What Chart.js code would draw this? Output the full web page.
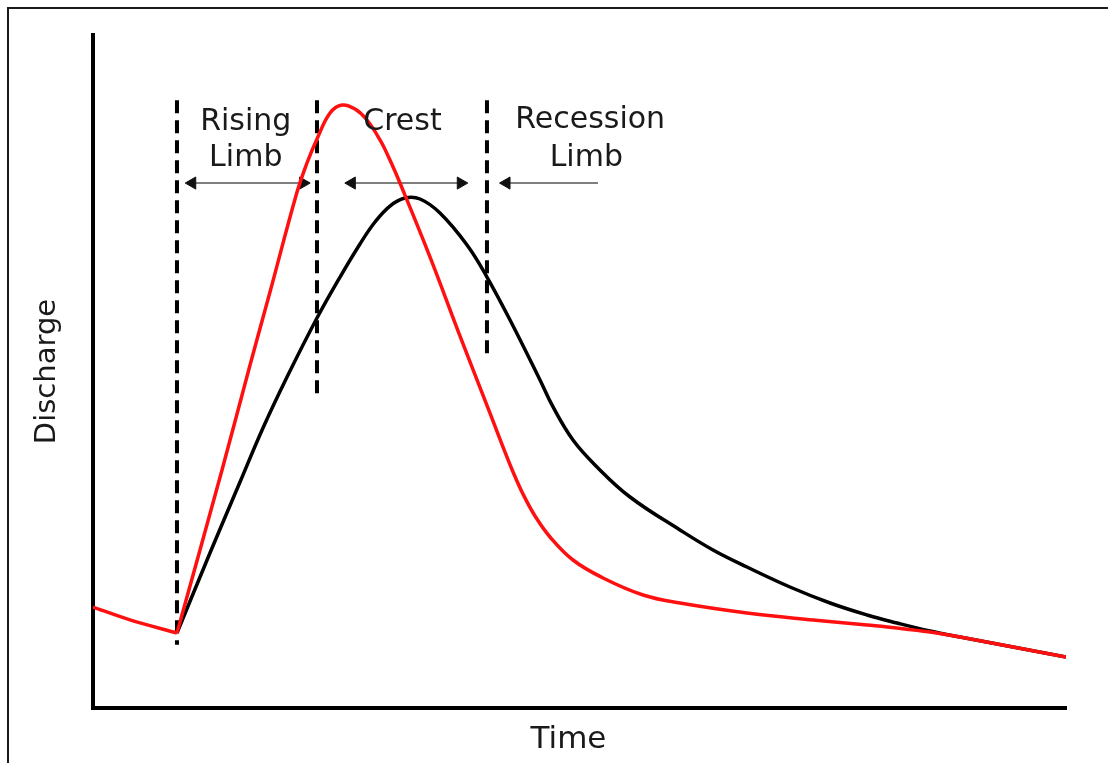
<!DOCTYPE html>
<html>
<head>
<meta charset="utf-8">
<script src="https://cdn.jsdelivr.net/npm/chart.js@4"></script>
<style>
  html, body { margin: 0; padding: 0; background: #ffffff; }
  canvas { display: block; }
</style>
</head>
<body>
<canvas id="hydrograph-chart" width="1108" height="763"></canvas>
<script>
// Time axis runs 0..100, discharge axis 0..100 (arbitrary units)

// Red hydrograph: baseflow before the storm, then the flashy response
const baseflowTime = [0, 3.8, 8.63];
const baseflowQ = [15.0, 13.1, 11.14];
const flashyTime = [8.63, 13.26, 16.14, 18.19, 20.97, 21.99, 23.02, 24.36, 25.59, 26.93, 28.16,
  29.50, 30.52, 31.55, 34.64, 37.72, 40.80, 42.14, 43.17, 44.19, 45.43, 46.97, 49.33, 52.42,
  56.53, 60.33, 67.21, 74.00, 79.55, 82.63, 86.02, 89.11, 100];
const flashyQ = [11.14, 35.36, 50.97, 61.81, 76.67, 80.98, 84.55, 88.41, 89.60, 89.00, 87.37,
  84.40, 81.43, 78.01, 67.01, 55.27, 43.83, 38.78, 35.07, 31.80, 28.53, 25.41, 21.99, 19.32,
  16.79, 15.60, 14.12, 13.08, 12.33, 11.89, 11.29, 10.55, 7.58];

// Black hydrograph: slower, lower response
const gentleTime = [8.63, 12.02, 15.11, 17.47, 19.94, 23.02, 25.39, 27.44, 28.98, 30.52, 32.07,
  33.61, 35.66, 38.44, 40.49, 42.86, 45.94, 47.28, 49.33, 51.80, 55.19, 60.33, 63.72, 67.21,
  71.63, 75.75, 79.55, 82.63, 86.02, 89.11, 100];
const gentleQ = [11.14, 23.03, 33.58, 41.60, 49.18, 57.95, 64.04, 68.95, 72.21, 74.59, 75.78,
  75.63, 73.55, 68.80, 64.04, 57.65, 48.74, 44.73, 39.82, 35.81, 31.35, 26.45, 23.48, 20.95,
  17.98, 15.60, 13.82, 12.63, 11.44, 10.55, 7.58];

// Dashed dividers between the limbs
const dividerTime = [8.63, 23.02, 40.49];
const dividerTop = [90.3, 90.3, 90.3];
const dividerBottom = [9.4, 46.5, 52.0];

// Arrows under the labels (start, end); heads flagged per end
const arrowLevel = 78.0;
const arrowStart = [10.2, 26.6, 42.5];
const arrowEnd = [21.6, 37.8, 51.9];
const arrowHeadStart = [true, true, true];
const arrowHeadEnd = [true, true, false];

// Annotation text
const labelText = ['Rising', 'Limb', 'Crest', 'Recession', 'Limb'];
const labelTime = [15.7, 15.7, 31.8, 51.1, 50.7];
const labelQ = [87.1, 81.7, 87.1, 87.4, 81.7];

const xTitle = 'Time';
const yTitle = 'Discharge';

const TEXT_FONT = '"DejaVu Sans", Verdana, sans-serif';

function toPoints(xs, ys) {
  return xs.map((x, i) => ({ x: x, y: ys[i] }));
}

function buildDatasets() {
  const sets = [];

  sets.push({
    label: 'Baseflow',
    data: toPoints(baseflowTime, baseflowQ),
    borderColor: '#ff1010',
    borderWidth: 3.5,
    pointRadius: 0,
    tension: 0.3
  });
  sets.push({
    label: 'Flashy',
    data: toPoints(flashyTime, flashyQ),
    borderColor: '#ff1010',
    borderWidth: 3.5,
    pointRadius: 0,
    tension: 0.4
  });
  sets.push({
    label: 'Gentle',
    data: toPoints(gentleTime, gentleQ),
    borderColor: '#000000',
    borderWidth: 3.5,
    pointRadius: 0,
    tension: 0.4
  });

  dividerTime.forEach((t, i) => {
    sets.push({
      label: 'Divider ' + i,
      data: [{ x: t, y: dividerTop[i] }, { x: t, y: dividerBottom[i] }],
      borderColor: '#000000',
      borderWidth: 4,
      borderDash: [13, 7],
      borderCapStyle: 'butt',
      pointRadius: 0
    });
  });

  arrowStart.forEach((t, i) => {
    sets.push({
      label: 'Arrow ' + i,
      data: [{ x: t, y: arrowLevel }, { x: arrowEnd[i], y: arrowLevel }],
      borderColor: '#555555',
      borderWidth: 1.6,
      pointStyle: 'triangle',
      pointRotation: [-90, 90],
      pointRadius: [arrowHeadStart[i] ? 7 : 0, arrowHeadEnd[i] ? 7 : 0],
      pointBackgroundColor: '#111111',
      pointBorderColor: '#111111',
      pointBorderWidth: 1
    });
  });

  return sets;
}

// Frame, annotation text and axis titles
const decorationsPlugin = {
  id: 'decorations',
  beforeDraw(chart) {
    const ctx = chart.ctx;
    ctx.save();
    ctx.fillStyle = '#ffffff';
    ctx.fillRect(0, 0, chart.width, chart.height);
    ctx.restore();
  },
  afterDraw(chart) {
    const ctx = chart.ctx;
    const xs = chart.scales.x;
    const ys = chart.scales.y;
    const area = chart.chartArea;

    ctx.save();
    // clipped picture frame: top and left edges only
    ctx.strokeStyle = '#1a1a1a';
    ctx.lineWidth = 2;
    ctx.beginPath();
    ctx.moveTo(8, chart.height);
    ctx.lineTo(8, 8);
    ctx.lineTo(chart.width, 8);
    ctx.stroke();

    ctx.fillStyle = '#1a1a1a';
    ctx.textAlign = 'center';
    ctx.textBaseline = 'middle';
    ctx.font = '30px ' + TEXT_FONT;
    labelText.forEach((txt, i) => {
      ctx.fillText(txt, xs.getPixelForValue(labelTime[i]), ys.getPixelForValue(labelQ[i]));
    });

    ctx.font = '31px ' + TEXT_FONT;
    ctx.fillText(xTitle, (area.left + area.right) / 2 - 11, area.bottom + 32);

    ctx.font = '29px ' + TEXT_FONT;
    ctx.translate(area.left - 46, (area.top + area.bottom) / 2);
    ctx.rotate(-Math.PI / 2);
    ctx.fillText(yTitle, 0, 0);
    ctx.restore();
  }
};

function axisOptions() {
  return {
    type: 'linear',
    min: 0,
    max: 100,
    grid: { display: false, drawTicks: false, tickLength: 0 },
    ticks: { display: false },
    border: { display: true, color: '#000000', width: 4 }
  };
}

function initChart() {
  const ctx = document.getElementById('hydrograph-chart');
  new Chart(ctx, {
    type: 'line',
    data: { datasets: buildDatasets() },
    options: {
      responsive: false,
      animation: false,
      layout: { padding: { left: 93, right: 42, top: 35, bottom: 55 } },
      plugins: {
        legend: { display: false },
        tooltip: { enabled: false }
      },
      scales: {
        x: axisOptions(),
        y: axisOptions()
      }
    },
    plugins: [decorationsPlugin]
  });
}

initChart();
</script>
</body>
</html>
